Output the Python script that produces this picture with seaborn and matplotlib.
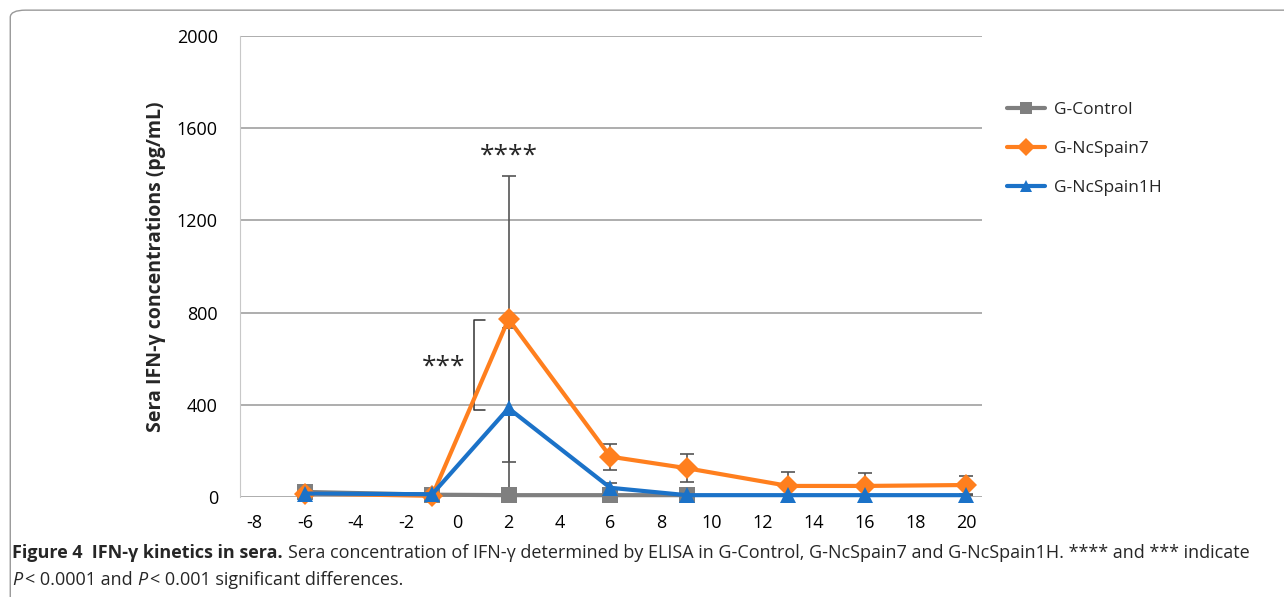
import matplotlib
matplotlib.use("Agg")
import matplotlib.pyplot as plt
import seaborn as sns
import pandas as pd
from matplotlib.patches import FancyBboxPatch

# data
days_ctrl = [-6, -1, 2, 6, 9]
ctrl = [22, 10, 8, 8, 8]
days = [-6, -1, 2, 6, 9, 13, 16, 20]
ns7 = [15, 5, 772, 175, 125, 48, 48, 52]
ns7_err = [0, 0, 620, 57, 60, 60, 56, 40]
ns1h = [15, 12, 385, 40, 8, 8, 8, 8]
ns1h_err = [0, 0, 350, 20, 0, 0, 0, 0]
group_names = ["G-Control", "G-NcSpain7", "G-NcSpain1H"]
colors = ["#7F7F7F", "#FF7F1E", "#1B72C8"]
y_ticks = [0, 400, 800, 1200, 1600, 2000]
x_ticks = list(range(-8, 21, 2))

df = pd.concat([
    pd.DataFrame({"day": days_ctrl, "ifn": ctrl, "group": group_names[0]}),
    pd.DataFrame({"day": days, "ifn": ns7, "group": group_names[1]}),
    pd.DataFrame({"day": days, "ifn": ns1h, "group": group_names[2]}),
])

sns.set_style("white")
plt.rcParams["font.family"] = ["Open Sans", "DejaVu Sans"]
plt.rcParams["axes.unicode_minus"] = False

fig = plt.figure(figsize=(12.84, 5.97), dpi=100)
ax = fig.add_axes([0.187, 0.1675, 0.578, 0.7722])

# error bars (behind the lines)
ax.errorbar(days, ns7, yerr=ns7_err, fmt="none", ecolor="#555555", elinewidth=1.2,
            capsize=5, capthick=1.2, zorder=1)
ax.errorbar(days, ns1h, yerr=ns1h_err, fmt="none", ecolor="#555555", elinewidth=1.2,
            capsize=5, capthick=1.2, zorder=1)

sns.lineplot(data=df, x="day", y="ifn", hue="group", style="group",
             hue_order=group_names, style_order=group_names,
             palette=colors, markers={"G-Control": "s", "G-NcSpain7": "D", "G-NcSpain1H": "^"},
             dashes=False, linewidth=3, markersize=11, markeredgewidth=0,
             ax=ax, zorder=3, clip_on=False)

ax.set_xlim(-8.55, 20.62)
ax.set_ylim(0, 2000)
ax.set_xticks(x_ticks)
ax.set_yticks(y_ticks)
ax.tick_params(axis="both", length=0, labelsize=13, colors="black")
ax.tick_params(axis="x", pad=12)
ax.tick_params(axis="y", pad=16)
ax.yaxis.grid(True, color="#A0A0A0", linewidth=1.2)
ax.set_axisbelow(True)
for s in ["top", "right", "bottom"]:
    ax.spines[s].set_visible(False)
ax.spines["left"].set_color("#C8C8C8")
ax.set_xlabel("")
ax.set_ylabel("Sera IFN-γ concentrations (pg/mL)", fontsize=14, fontweight="bold", labelpad=8)

# significance marks
ax.text(2, 1480, "****", ha="center", va="center", fontsize=19)
ax.text(-0.55, 565, "***", ha="center", va="center", fontsize=19)
ax.plot([1.08, 0.65, 0.65, 1.08], [770, 770, 378, 378], color="#333333", lw=1.1)

leg = ax.legend(loc="upper left", bbox_to_anchor=(1.012, 0.89), frameon=False,
                fontsize=12.5, handlelength=2.2, handletextpad=0.5, labelspacing=1.3,
                title=None, markerscale=0.8)

# caption
fig.patches.append(FancyBboxPatch((0.008, -0.05), 1.2, 1.033, boxstyle="round,pad=0,rounding_size=0.012",
                                  transform=fig.transFigure, fill=False, edgecolor="#999999", lw=1.0))
fig.canvas.draw()
r = fig.canvas.get_renderer()
fs = 12.95
x0, y1, y2 = 12 / 1284, 1 - 553 / 597, 1 - 580 / 597
t1 = fig.text(x0, y1, "Figure 4  IFN-γ kinetics in sera.", fontsize=fs, fontweight="bold",
              va="center")
w = t1.get_window_extent(r).width / fig.bbox.width
fig.text(x0 + w + 0.004, y1, "Sera concentration of IFN-γ determined by ELISA in G-Control, G-NcSpain7 "
         "and G-NcSpain1H. **** and *** indicate", fontsize=fs, va="center")
p1 = fig.text(x0, y2, "P", fontsize=fs, style="italic", va="center")
w = p1.get_window_extent(r).width / fig.bbox.width
p2 = fig.text(x0 + w + 0.002, y2, "< 0.0001 and", fontsize=fs, va="center")
w2 = p2.get_window_extent(r).width / fig.bbox.width
p3 = fig.text(x0 + w + w2 + 0.006, y2, "P", fontsize=fs, style="italic", va="center")
w3 = p3.get_window_extent(r).width / fig.bbox.width
fig.text(x0 + w + w2 + w3 + 0.008, y2, "< 0.001 significant differences.", fontsize=fs, va="center")

fig.savefig("out.png", dpi=100)
